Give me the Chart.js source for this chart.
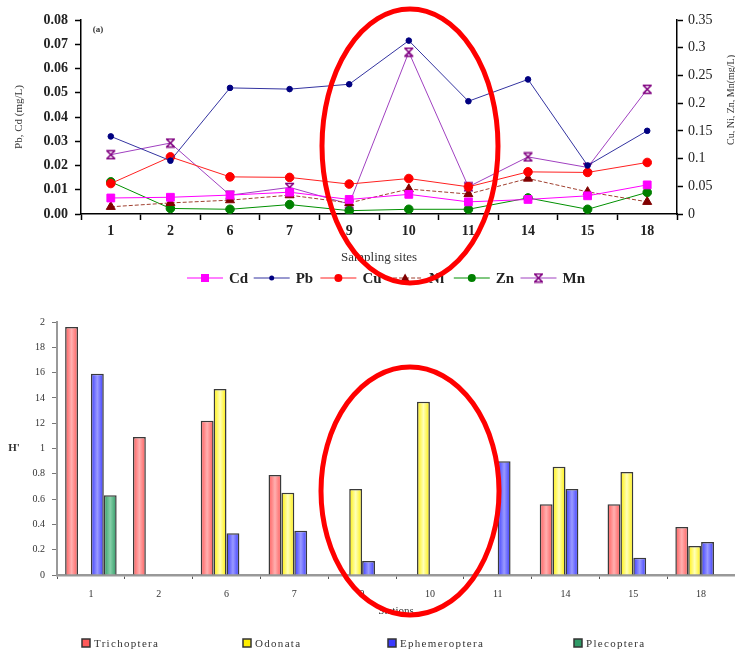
<!DOCTYPE html>
<html>
<head>
<meta charset="utf-8">
<script src="https://cdn.jsdelivr.net/npm/chart.js"></script>
<style>
  body { margin: 0; background: #fff; }
  #wrap { position: relative; width: 735px; height: 651px; overflow: hidden; }
  canvas { position: absolute; left: 0; }
  #metals { top: 0; }
  #diversity { top: 296px; }
</style>
</head>
<body>
<div id="wrap">
  <canvas id="metals" width="735" height="296"></canvas>
  <canvas id="diversity" width="735" height="355"></canvas>
</div>
<script>
// sampling sites (same for both panels)
const sites = ['1', '2', '6', '7', '9', '10', '11', '14', '15', '18'];

// heavy metals, mg/L  (Pb, Cd on left axis, the rest on right axis)
const cd = [0.0066, 0.0069, 0.0078, 0.009, 0.006, 0.0081, 0.005, 0.006, 0.0075, 0.012];
const pb = [0.032, 0.022, 0.052, 0.0515, 0.0535, 0.0715, 0.0465, 0.0555, 0.02, 0.0343];
const cu = [0.055, 0.103, 0.067, 0.066, 0.054, 0.064, 0.049, 0.076, 0.075, 0.093];
const ni = [0.013, 0.02, 0.025, 0.034, 0.02, 0.045, 0.036, 0.064, 0.04, 0.022];
const zn = [0.058, 0.01, 0.0085, 0.017, 0.006, 0.0085, 0.0085, 0.029, 0.0085, 0.039];
const mn = [0.107, 0.128, 0.034, 0.048, 0.018, 0.292, 0.049, 0.103, 0.084, 0.225];

// Shannon diversity H' per order
const trichoptera = [1.96, 1.09, 1.22, 0.79, null, null, null, 0.56, 0.56, 0.38];
const odonata = [null, null, 1.47, 0.65, 0.68, 1.37, null, 0.855, 0.815, 0.23];
const ephemeroptera = [1.59, null, 0.33, 0.35, 0.11, null, 0.9, 0.68, 0.137, 0.26];
const plecoptera = [0.63, null, null, null, null, null, null, null, null, null];

// tick labels as printed on the H' axis
const hTicks = ['0', '0.2', '0.4', '0.6', '0.8', '1', '12', '14', '16', '18', '2'];

const serif = "'Liberation Serif', 'Times New Roman', serif";
Chart.defaults.font.family = serif;
Chart.defaults.color = '#222';

// Excel style "x with bars" marker for Mn
const mnMark = document.createElement('canvas');
mnMark.width = 11; mnMark.height = 11;
(function () {
  const c = mnMark.getContext('2d');
  c.strokeStyle = '#800080';
  c.lineWidth = 1.6;
  c.beginPath();
  c.moveTo(1, 1.5); c.lineTo(10, 1.5);
  c.moveTo(1, 9.5); c.lineTo(10, 9.5);
  c.moveTo(1.5, 1.5); c.lineTo(9.5, 9.5);
  c.moveTo(9.5, 1.5); c.lineTo(1.5, 9.5);
  c.stroke();
})();

function marker(ctx, style, x, y, r) {
  ctx.beginPath();
  if (style === 'rect') {
    ctx.rect(x - r, y - r, r * 2, r * 2);
    ctx.fill();
  } else if (style === 'triangle') {
    ctx.moveTo(x, y - r);
    ctx.lineTo(x + r, y + r * 0.8);
    ctx.lineTo(x - r, y + r * 0.8);
    ctx.closePath();
    ctx.fill();
  } else if (style instanceof HTMLCanvasElement) {
    ctx.drawImage(style, x - style.width / 2, y - style.height / 2);
  } else {
    ctx.arc(x, y, r, 0, Math.PI * 2);
    ctx.fill();
  }
}

// legend with a short line + marker, like the spreadsheet one
const lineLegend = {
  id: 'lineLegend',
  afterDraw(chart, args, o) {
    const ctx = chart.ctx;
    ctx.save();
    chart.data.datasets.forEach((ds, i) => {
      const x0 = o.x + i * o.pitch;
      ctx.strokeStyle = ds.borderColor;
      ctx.lineWidth = 1;
      ctx.setLineDash(ds.borderDash || []);
      ctx.beginPath();
      ctx.moveTo(x0, o.y);
      ctx.lineTo(x0 + 36, o.y);
      ctx.stroke();
      ctx.setLineDash([]);
      ctx.fillStyle = ds.pointBackgroundColor;
      marker(ctx, ds.pointStyle, x0 + 18, o.y, ds.legendRadius);
      ctx.fillStyle = '#222';
      ctx.font = 'bold 15px ' + serif;
      ctx.textBaseline = 'middle';
      ctx.fillText(ds.label, x0 + 42, o.y + 1);
    });
    ctx.restore();
  }
};

// legend with small boxes, spread out
const boxLegend = {
  id: 'boxLegend',
  afterDraw(chart, args, o) {
    const ctx = chart.ctx;
    ctx.save();
    chart.data.datasets.forEach((ds, i) => {
      const x = o.xs[i];
      ctx.fillStyle = ds.edgeTone;
      ctx.strokeStyle = '#333';
      ctx.lineWidth = 1.5;
      ctx.fillRect(x, o.y - 4, 8, 8);
      ctx.strokeRect(x, o.y - 4, 8, 8);
      ctx.fillStyle = '#333';
      ctx.font = '11px ' + serif;
      ctx.letterSpacing = '1.3px';
      ctx.textBaseline = 'middle';
      ctx.fillText(ds.label, x + 12, o.y + 1);
    });
    ctx.restore();
  }
};

// cylinder-like shading on each bar: darker edges, pale middle
const barShade = {
  id: 'barShade',
  beforeDatasetsDraw(chart) {
    const ctx = chart.ctx;
    chart.data.datasets.forEach((ds, i) => {
      chart.getDatasetMeta(i).data.forEach(bar => {
        const { x, width } = bar.getProps(['x', 'width'], true);
        if (!width) return;
        const g = ctx.createLinearGradient(x - width / 2, 0, x + width / 2, 0);
        g.addColorStop(0, ds.edgeTone);
        g.addColorStop(0.5, ds.midTone);
        g.addColorStop(1, ds.edgeTone);
        bar.options.backgroundColor = g;
      });
    });
  }
};

// free text labels: panel tag, horizontal / reversed axis titles
const notes = {
  id: 'notes',
  afterDraw(chart, args, o) {
    const ctx = chart.ctx;
    o.items.forEach(t => {
      ctx.save();
      ctx.translate(t.x, t.y);
      ctx.rotate(t.rot || 0);
      ctx.fillStyle = '#333';
      ctx.font = t.font;
      ctx.textAlign = 'center';
      ctx.textBaseline = 'middle';
      ctx.fillText(t.text, 0, 0);
      ctx.restore();
    });
  }
};

// red hand-drawn ellipse around site 10
const circled = {
  id: 'circled',
  afterDraw(chart, args, o) {
    const ctx = chart.ctx;
    ctx.save();
    ctx.strokeStyle = '#ff0000';
    ctx.lineWidth = 5;
    ctx.beginPath();
    ctx.ellipse(o.cx, o.cy, o.rx, o.ry, 0, 0, Math.PI * 2);
    ctx.stroke();
    ctx.restore();
  }
};

function metal(label, data, axis, line, point, style, r, lr, dash) {
  return {
    label, data, yAxisID: axis,
    borderColor: line, borderWidth: 1, borderDash: dash || [],
    pointBackgroundColor: point, pointBorderColor: point,
    pointStyle: style, pointRadius: r, pointBorderWidth: 1,
    legendRadius: lr, tension: 0
  };
}

new Chart(document.getElementById('metals'), {
  type: 'line',
  data: {
    labels: sites,
    datasets: [
      metal('Cd', cd, 'y', '#ff00ff', '#ff00ff', 'rect', 5.5, 4),
      metal('Pb', pb, 'y', '#3333a0', '#000080', 'circle', 2.8, 2.5),
      metal('Cu', cu, 'y1', '#ff2020', '#ff0000', 'circle', 4.3, 4),
      metal('Ni', ni, 'y1', '#a04030', '#800000', 'triangle', 5.2, 4.5, [4, 2]),
      metal('Zn', zn, 'y1', '#009000', '#008000', 'circle', 4.3, 4),
      metal('Mn', mn, 'y1', '#a040c0', '#800080', mnMark, 5, 4)
    ]
  },
  options: {
    responsive: false,
    animation: false,
    layout: { padding: { top: 20, bottom: 30 } },
    plugins: {
      legend: { display: false },
      tooltip: { enabled: false },
      lineLegend: { x: 187, y: 278, pitch: 66.7 },
      notes: { items: [
        { text: '(a)', x: 98, y: 30, font: 'bold 9px ' + serif },
        { text: 'Cu, Ni, Zn, Mn(mg/L)', x: 731, y: 100, rot: -Math.PI / 2, font: '10px ' + serif }
      ] },
      circled: { cx: 410, cy: 146, rx: 88, ry: 137 }
    },
    scales: {
      x: {
        offset: true,
        grid: { drawOnChartArea: false, offset: true, tickLength: 6, color: '#000', tickColor: '#000', tickWidth: 1.5 },
        border: { color: '#000', width: 1.5 },
        ticks: { font: { size: 14, weight: 'bold' }, padding: 3, maxRotation: 0 },
        title: { display: true, text: 'Sampling sites', font: { size: 13 }, color: '#333', padding: { top: 0, bottom: 1 } },
        afterFit: s => { s.height = 52; }
      },
      y: {
        position: 'left', min: 0, max: 0.08,
        grid: { drawOnChartArea: false, tickLength: 6, color: '#000', tickColor: '#000', tickWidth: 1.5 },
        border: { color: '#000', width: 1.5 },
        ticks: { stepSize: 0.01, callback: v => v.toFixed(2), font: { size: 14, weight: 'bold' }, padding: 7 },
        title: { display: true, text: 'Pb, Cd (mg/L)', font: { size: 11 }, color: '#333', padding: { top: 13, bottom: 0 } },
        afterFit: s => { s.width = 81; }
      },
      y1: {
        position: 'right', min: 0, max: 0.35,
        grid: { drawOnChartArea: false, tickLength: 6, color: '#000', tickColor: '#000', tickWidth: 1.5 },
        border: { color: '#000', width: 1.5 },
        ticks: { stepSize: 0.05, callback: v => String(parseFloat(v.toFixed(2))), font: { size: 14 }, padding: 5 },
        afterFit: s => { s.width = 58; }
      }
    }
  },
  plugins: [lineLegend, notes, circled]
});

function order(label, data, edgeTone, midTone) {
  return {
    label, data, edgeTone, midTone,
    // scriptable so every bar gets its own options object (shaded later)
    backgroundColor: () => edgeTone,
    borderColor: '#3a3a3a', borderWidth: 1.5, borderSkipped: 'bottom'
  };
}

new Chart(document.getElementById('diversity'), {
  type: 'bar',
  data: {
    labels: sites,
    datasets: [
      order('Trichoptera', trichoptera, '#ff5a5a', '#ffb0b0'),
      order('Odonata', odonata, '#ffee00', '#ffffb8'),
      order('Ephemeroptera', ephemeroptera, '#3a3aff', '#9a9aff'),
      order('Plecoptera', plecoptera, '#2f9a66', '#86d0a8')
    ]
  },
  options: {
    responsive: false,
    animation: false,
    layout: { padding: { top: 26, bottom: 31, right: 0 } },
    datasets: { bar: { categoryPercentage: 0.76, barPercentage: 1 } },
    plugins: {
      legend: { display: false },
      tooltip: { enabled: false },
      boxLegend: { xs: [82, 243, 388, 574], y: 347 },
      notes: { items: [
        { text: "H'", x: 14, y: 152, font: 'bold 11px ' + serif }
      ] },
      circled: { cx: 410, cy: 195, rx: 89, ry: 124 }
    },
    scales: {
      x: {
        grid: { drawOnChartArea: false, offset: true, tickLength: 4, color: '#555', tickColor: '#555' },
        border: { color: '#999', width: 2.5 },
        ticks: { font: { size: 10 }, color: '#333', padding: 9, maxRotation: 0 },
        title: { display: true, text: 'Stations', font: { size: 11 }, color: '#333', padding: { top: 0, bottom: 2 } },
        afterFit: s => { s.height = 45; }
      },
      y: {
        min: 0, max: 2,
        grid: { drawOnChartArea: false, tickLength: 5, color: '#777', tickColor: '#777' },
        border: { color: '#999', width: 2 },
        ticks: { stepSize: 0.2, callback: (v, i) => hTicks[i], font: { size: 10 }, color: '#333', padding: 7 },
        afterFit: s => { s.width = 57; }
      }
    }
  },
  plugins: [barShade, boxLegend, notes, circled]
});
</script>
</body>
</html>
